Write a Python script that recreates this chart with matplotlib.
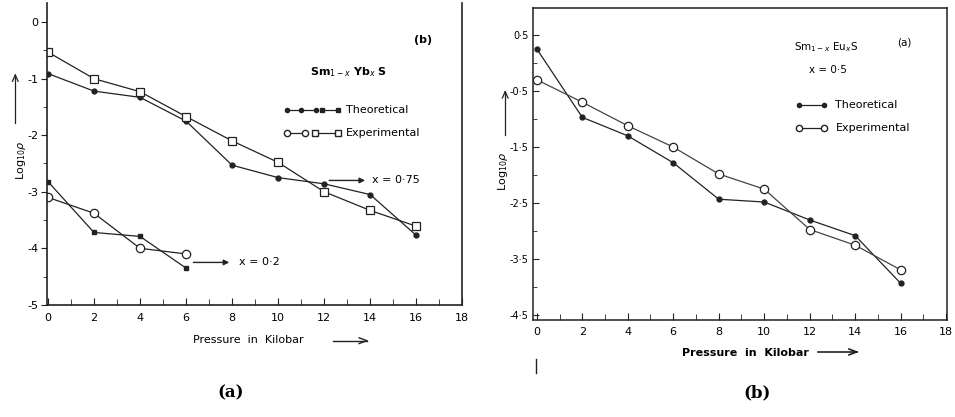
import numpy as np
import matplotlib
matplotlib.use("Agg")
import matplotlib.pyplot as plt
from matplotlib.lines import Line2D

# ---- data ----
# panel (a): Sm(1-x)Yb(x)S
p_yb75 = [0, 2, 4, 6, 8, 10, 12, 14, 16]
yb75_theo = [-0.91, -1.22, -1.33, -1.75, -2.53, -2.75, -2.86, -3.05, -3.77]
yb75_exp = [-0.53, -1.0, -1.23, -1.67, -2.1, -2.48, -3.0, -3.33, -3.61]
p_yb20 = [0, 2, 4, 6]
yb20_theo = [-2.82, -3.72, -3.79, -4.35]
yb20_exp = [-3.1, -3.38, -4.0, -4.1]

# panel (b): Sm(1-x)Eu(x)S, x = 0.5
p_eu = [0, 2, 4, 6, 8, 10, 12, 14, 16]
eu_theo = [0.25, -0.97, -1.3, -1.78, -2.43, -2.48, -2.8, -3.08, -3.93]
eu_exp = [-0.3, -0.7, -1.12, -1.5, -1.98, -2.25, -2.97, -3.25, -3.69]

xticks = [0, 2, 4, 6, 8, 10, 12, 14, 16, 18]
yticks_a = [0, -1, -2, -3, -4, -5]
yticks_b = [0.5, -0.5, -1.5, -2.5, -3.5, -4.5]
yticklabels_b = ["0·5", "-0·5", "-1·5", "-2·5", "-3·5", "-4·5"]

plt.rcParams['font.family'] = ['DejaVu Sans']
lc = '#222222'
fig = plt.figure(figsize=(9.55, 4.17), dpi=100)

# ---------- left panel ----------
ax1 = fig.add_axes([0.049, 0.269, 0.435, 0.724])
ax1.set_xlim(-0.05, 18)
ax1.set_ylim(-5.0, 0.34)
ax1.plot(p_yb75, yb75_theo, '-', color=lc, lw=0.9, marker='o', ms=3.5, mfc=lc, mec=lc)
ax1.plot(p_yb75, yb75_exp, '-', color=lc, lw=0.9, marker='s', ms=6, mfc='white', mec=lc, mew=0.9)
ax1.plot(p_yb20, yb20_theo, '-', color=lc, lw=0.9, marker='s', ms=3.5, mfc=lc, mec=lc)
ax1.plot(p_yb20, yb20_exp, '-', color=lc, lw=0.9, marker='o', ms=6, mfc='white', mec=lc, mew=0.9)
ax1.spines['top'].set_visible(False)
for s in ax1.spines.values():
    s.set_linewidth(1.2)
    s.set_color(lc)
ax1.set_xticks(xticks)
ax1.set_xticks(range(0, 19), minor=True)
ax1.set_yticks(yticks_a)
ax1.set_yticks(np.arange(-5, 0.01, 0.5), minor=True)
ax1.set_yticklabels([str(v) for v in yticks_a])
ax1.tick_params(axis='x', direction='in', length=5, labelsize=8, pad=6, color=lc)
ax1.tick_params(axis='x', which='minor', direction='in', length=4, color=lc)
ax1.tick_params(axis='y', direction='out', length=4, labelsize=8, pad=2, color=lc)
ax1.tick_params(axis='y', which='minor', direction='out', length=3, color=lc)

tr = ax1.transAxes
ax1.text(0.885, 0.877, "(b)", transform=tr, fontsize=8, fontweight='bold', va='center')
ax1.text(0.634, 0.77, "Sm$_{1-x}$ Yb$_x$ S", transform=tr, fontsize=8, fontweight='bold', va='center')
# legend samples
ax1.plot([0.578, 0.613, 0.648], [0.646, 0.646, 0.646], '-', color=lc, lw=0.9, marker='o', ms=3, transform=tr, clip_on=False)
ax1.plot([0.662, 0.702], [0.646, 0.646], '-', color=lc, lw=0.9, marker='s', ms=3, transform=tr, clip_on=False)
ax1.text(0.72, 0.646, "Theoretical", transform=tr, fontsize=8, va='center')
ax1.plot([0.578, 0.622], [0.57, 0.57], '-', color=lc, lw=0.9, marker='o', ms=4.5, mfc='white', transform=tr, clip_on=False)
ax1.plot([0.645, 0.7], [0.57, 0.57], '-', color=lc, lw=0.9, marker='s', ms=4.5, mfc='white', transform=tr, clip_on=False)
ax1.text(0.72, 0.57, "Experimental", transform=tr, fontsize=8, va='center')
ax1.annotate("", xy=(13.9, -2.8), xytext=(12.1, -2.8),
             arrowprops=dict(arrowstyle='-|>', color=lc, lw=1, mutation_scale=8))
ax1.text(14.1, -2.8, "x = 0·75", fontsize=8, va='center')
ax1.annotate("", xy=(8.0, -4.25), xytext=(6.2, -4.25),
             arrowprops=dict(arrowstyle='-|>', color=lc, lw=1, mutation_scale=8))
ax1.text(8.3, -4.25, "x = 0·2", fontsize=8, va='center')

# ---------- right panel ----------
ax2 = fig.add_axes([0.558, 0.233, 0.434, 0.748])
ax2.set_xlim(-0.17, 18.05)
ax2.set_ylim(-4.58, 0.98)
ax2.plot(p_eu, eu_theo, '-', color=lc, lw=0.9, marker='o', ms=3.5, mfc=lc, mec=lc)
ax2.plot(p_eu, eu_exp, '-', color='#444444', lw=0.9, marker='o', ms=6, mfc='white', mec=lc, mew=0.9)
for s in ax2.spines.values():
    s.set_linewidth(1.1)
    s.set_color(lc)
ax2.set_xticks(xticks)
ax2.set_xticks(range(0, 19), minor=True)
ax2.set_yticks(yticks_b)
ax2.set_yticklabels(yticklabels_b)
ax2.set_yticks(np.arange(-4.5, 0.51, 0.5), minor=True)
ax2.tick_params(axis='x', direction='in', length=5, labelsize=8, pad=5, color=lc)
ax2.tick_params(axis='x', which='minor', direction='in', length=4, color=lc)
ax2.tick_params(axis='y', direction='in', length=4, labelsize=7, pad=3, color=lc)
ax2.tick_params(axis='y', which='minor', direction='in', length=3, color=lc)

tr2 = ax2.transAxes
ax2.text(0.63, 0.875, "Sm$_{1-x}$ Eu$_x$S", transform=tr2, fontsize=7.5, va='center')
ax2.text(0.88, 0.888, "(a)", transform=tr2, fontsize=7.5, va='center')
ax2.text(0.667, 0.8, "x = 0·5", transform=tr2, fontsize=7.5, va='center')
ax2.plot([0.643, 0.703], [0.69, 0.69], '-', color=lc, lw=0.9, marker='o', ms=3, transform=tr2, clip_on=False)
ax2.text(0.73, 0.69, "Theoretical", transform=tr2, fontsize=8, va='center')
ax2.plot([0.643, 0.703], [0.615, 0.615], '-', color=lc, lw=0.9, marker='o', ms=4.5, mfc='white', transform=tr2, clip_on=False)
ax2.text(0.73, 0.615, "Experimental", transform=tr2, fontsize=8, va='center')

# axis titles with arrows
fig.text(0.202, 0.178, "Pressure  in  Kilobar", fontsize=8)
fig.add_artist(Line2D([0.349, 0.384], [0.183, 0.183], color=lc, lw=1))
fig.add_artist(Line2D([0.376, 0.384], [0.19, 0.183], color=lc, lw=1))
fig.add_artist(Line2D([0.376, 0.384], [0.176, 0.183], color=lc, lw=1))
fig.text(0.714, 0.147, "Pressure  in  Kilobar", fontsize=8, fontweight='bold')
fig.add_artist(Line2D([0.857, 0.897], [0.156, 0.156], color=lc, lw=1.2))
fig.add_artist(Line2D([0.889, 0.897], [0.163, 0.156], color=lc, lw=1.2))
fig.add_artist(Line2D([0.889, 0.897], [0.149, 0.156], color=lc, lw=1.2))

fig.text(0.022, 0.616, "Log$_{10}$$\\rho$", fontsize=8, rotation=90, va='center', ha='center')
fig.add_artist(Line2D([0.016, 0.016], [0.705, 0.82], color=lc, lw=0.9))
fig.add_artist(Line2D([0.013, 0.016], [0.805, 0.82], color=lc, lw=0.9))
fig.add_artist(Line2D([0.019, 0.016], [0.805, 0.82], color=lc, lw=0.9))
fig.text(0.527, 0.59, "Log$_{10}$$\\rho$", fontsize=8, rotation=90, va='center', ha='center')
fig.add_artist(Line2D([0.529, 0.529], [0.676, 0.78], color=lc, lw=0.9))
fig.add_artist(Line2D([0.526, 0.529], [0.765, 0.78], color=lc, lw=0.9))
fig.add_artist(Line2D([0.532, 0.529], [0.765, 0.78], color=lc, lw=0.9))
fig.add_artist(Line2D([0.561, 0.561], [0.105, 0.14], color=lc, lw=1))

fig.text(0.242, 0.048, "(a)", fontsize=12, fontweight='bold', family='DejaVu Serif', ha='center')
fig.text(0.793, 0.048, "(b)", fontsize=12, fontweight='bold', family='DejaVu Serif', ha='center')

fig.savefig("out.png", dpi=100)
